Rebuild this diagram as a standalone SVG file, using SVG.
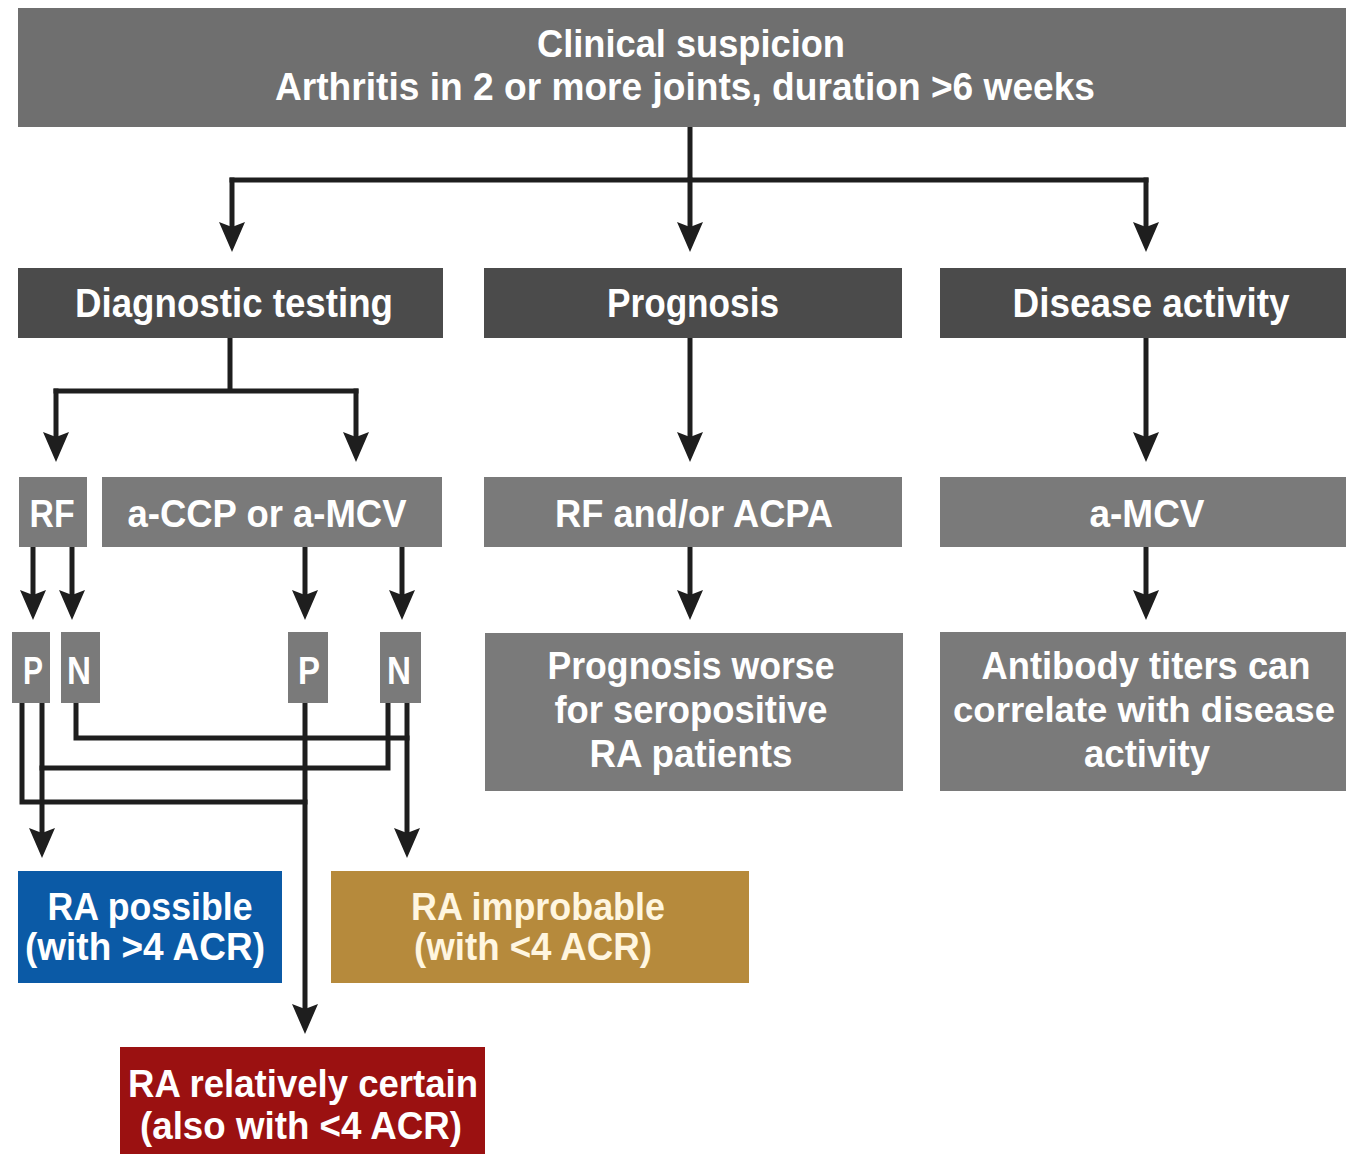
<svg xmlns="http://www.w3.org/2000/svg" width="1346" height="1154" viewBox="0 0 1346 1154">
<style>
.t{font-family:"Liberation Sans","Arial",sans-serif;font-weight:bold;fill:#ffffff;text-anchor:middle;font-size:38px}
.h{font-size:41px}
.s{font-size:35px}
.g1{fill:#6f6f6f}
.g2{fill:#4b4b4b}
.g3{fill:#7a7a7a}
.c{fill:none;stroke:#1e1e1e;stroke-width:5;stroke-linecap:square;stroke-linejoin:miter}
</style>
<defs>
<marker id="ah" markerUnits="userSpaceOnUse" viewBox="0 0 30 26" markerWidth="30" markerHeight="26" refX="8" refY="13" orient="auto">
<path d="M0,0 L30,13 L0,26 L5,13 Z" fill="#1e1e1e"/>
</marker>
</defs>
<rect width="1346" height="1154" fill="#ffffff"/>

<g id="connectors">
<path class="c" d="M690,127 V180 M232,180 H1146"/>
<path class="c" d="M232,180 V230" marker-end="url(#ah)"/>
<path class="c" d="M690,180 V230" marker-end="url(#ah)"/>
<path class="c" d="M1146,180 V230" marker-end="url(#ah)"/>
<path class="c" d="M230,338 V391 M56,391 H356"/>
<path class="c" d="M56,391 V440" marker-end="url(#ah)"/>
<path class="c" d="M356,391 V440" marker-end="url(#ah)"/>
<path class="c" d="M690,338 V440" marker-end="url(#ah)"/>
<path class="c" d="M1146,338 V440" marker-end="url(#ah)"/>
<path class="c" d="M33,547 V598" marker-end="url(#ah)"/>
<path class="c" d="M72,547 V598" marker-end="url(#ah)"/>
<path class="c" d="M305,547 V598" marker-end="url(#ah)"/>
<path class="c" d="M402,547 V598" marker-end="url(#ah)"/>
<path class="c" d="M690,547 V598" marker-end="url(#ah)"/>
<path class="c" d="M1146,547 V598" marker-end="url(#ah)"/>
<path class="c" d="M22,703 V802 H305"/>
<path class="c" d="M42,703 V836" marker-end="url(#ah)"/>
<path class="c" d="M42,768 H388 V703"/>
<path class="c" d="M76,703 V738 H407"/>
<path class="c" d="M407,703 V836" marker-end="url(#ah)"/>
<path class="c" d="M305,703 V1012" marker-end="url(#ah)"/>
</g>

<g id="clinical">
<rect class="g1" x="18" y="8" width="1328" height="119"/>
<text class="t" x="691" y="57" textLength="308" lengthAdjust="spacingAndGlyphs">Clinical suspicion</text>
<text class="t" x="685" y="100" textLength="820" lengthAdjust="spacingAndGlyphs">Arthritis in 2 or more joints, duration &gt;6 weeks</text>
</g>

<g id="diagnostic">
<rect class="g2" x="18" y="268" width="425" height="70"/>
<text class="t h" x="234" y="317" textLength="318" lengthAdjust="spacingAndGlyphs">Diagnostic testing</text>
</g>
<g id="prognosis">
<rect class="g2" x="484" y="268" width="418" height="70"/>
<text class="t h" x="693" y="317" textLength="172" lengthAdjust="spacingAndGlyphs">Prognosis</text>
</g>
<g id="activity">
<rect class="g2" x="940" y="268" width="406" height="70"/>
<text class="t h" x="1151" y="317" textLength="277" lengthAdjust="spacingAndGlyphs">Disease activity</text>
</g>

<g id="rf">
<rect class="g3" x="19" y="477" width="68" height="70"/>
<text class="t" x="52" y="527" textLength="45" lengthAdjust="spacingAndGlyphs">RF</text>
</g>
<g id="accp">
<rect class="g3" x="102" y="477" width="340" height="70"/>
<text class="t" x="267" y="527" textLength="279" lengthAdjust="spacingAndGlyphs">a-CCP or a-MCV</text>
</g>
<g id="rfacpa">
<rect class="g3" x="484" y="477" width="418" height="70"/>
<text class="t" x="694" y="527" textLength="278" lengthAdjust="spacingAndGlyphs">RF and/or ACPA</text>
</g>
<g id="amcv">
<rect class="g3" x="940" y="477" width="406" height="70"/>
<text class="t" x="1147" y="527" textLength="115" lengthAdjust="spacingAndGlyphs">a-MCV</text>
</g>

<g id="p1">
<rect class="g3" x="12" y="632" width="38" height="71"/>
<text class="t" x="33" y="684" textLength="20" lengthAdjust="spacingAndGlyphs">P</text>
</g>
<g id="n1">
<rect class="g3" x="61" y="632" width="39" height="71"/>
<text class="t" x="79" y="684" textLength="24" lengthAdjust="spacingAndGlyphs">N</text>
</g>
<g id="p2">
<rect class="g3" x="288" y="632" width="40" height="71"/>
<text class="t" x="309" y="684" textLength="22" lengthAdjust="spacingAndGlyphs">P</text>
</g>
<g id="n2">
<rect class="g3" x="380" y="632" width="41" height="71"/>
<text class="t" x="399" y="684" textLength="24" lengthAdjust="spacingAndGlyphs">N</text>
</g>

<g id="worse">
<rect class="g3" x="485" y="633" width="418" height="158"/>
<text class="t" x="691" y="679" textLength="287" lengthAdjust="spacingAndGlyphs">Prognosis worse</text>
<text class="t" x="691" y="723" textLength="273" lengthAdjust="spacingAndGlyphs">for seropositive</text>
<text class="t" x="691" y="767" textLength="203" lengthAdjust="spacingAndGlyphs">RA patients</text>
</g>
<g id="titers">
<rect class="g3" x="940" y="632" width="406" height="159"/>
<text class="t" x="1146" y="679" textLength="329" lengthAdjust="spacingAndGlyphs">Antibody titers can</text>
<text class="t s" x="1144" y="722" textLength="382" lengthAdjust="spacingAndGlyphs">correlate with disease</text>
<text class="t" x="1147" y="767" textLength="126" lengthAdjust="spacingAndGlyphs">activity</text>
</g>

<g id="possible">
<rect x="18" y="871" width="264" height="112" fill="#0b5aa6"/>
<text class="t" x="150" y="920" textLength="205" lengthAdjust="spacingAndGlyphs">RA possible</text>
<text class="t" x="145" y="960" textLength="240" lengthAdjust="spacingAndGlyphs">(with &gt;4 ACR)</text>
</g>
<g id="improbable">
<rect x="331" y="871" width="418" height="112" fill="#b68a3c"/>
<text class="t" x="538" y="920" textLength="254" lengthAdjust="spacingAndGlyphs" style="fill:#fff6e0">RA improbable</text>
<text class="t" x="533" y="960" textLength="238" lengthAdjust="spacingAndGlyphs" style="fill:#fff6e0">(with &lt;4 ACR)</text>
</g>
<g id="certain">
<rect x="120" y="1047" width="365" height="107" fill="#9b1111"/>
<text class="t" x="303" y="1097" textLength="350" lengthAdjust="spacingAndGlyphs">RA relatively certain</text>
<text class="t" x="301" y="1139" textLength="322" lengthAdjust="spacingAndGlyphs">(also with &lt;4 ACR)</text>
</g>
</svg>
